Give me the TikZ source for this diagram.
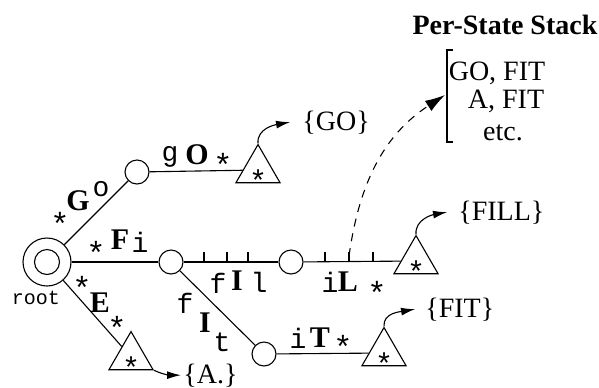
\documentclass[tikz,border=0pt]{standalone}
\usepackage{fontspec}
\setmainfont{Liberation Serif}
\setmonofont{Liberation Mono}
\usetikzlibrary{shapes.geometric,arrows.meta}
\begin{document}
\begin{tikzpicture}[x=0.5pt,y=-0.5pt,
  state/.style={draw,circle,minimum size=12pt,inner sep=0pt,line width=0.55pt},
  leaf/.style={draw,regular polygon,regular polygon sides=3,minimum size=18.5pt,inner sep=0pt,line width=0.55pt,font=\fontsize{15}{15}\ttfamily},
  bl/.style={inner sep=0pt,font=\fontsize{15}{15}\bfseries},
  tl/.style={inner sep=0pt,font=\fontsize{14}{14}\ttfamily},
  starlab/.style={inner sep=0pt,font=\fontsize{16}{16}\ttfamily},
  edge/.style={line width=0.55pt},
  arr/.style={-{Latex[length=7pt,width=4pt]},line width=0.55pt},
  setlab/.style={inner sep=0pt,anchor=base west,font=\fontsize{14}{14}\selectfont},
  stk/.style={inner sep=0pt,anchor=base,font=\fontsize{14}{14}\selectfont}]
\useasboundingbox (0,0) rectangle (599,387);
% states
\node[state,minimum size=24pt] (root) at (47,262) {};
\draw[edge] (root.center) circle[radius=6.25pt];
\node[inner sep=0pt,font=\fontsize{10}{10}\ttfamily] (rootlab) at (36,298) {root};
\node[state] (g) at (137,172) {};
\node[state] (f) at (171,262) {};
\node[state] (i) at (291,262) {};
\node[state] (t) at (264,354) {};
% leaves
\node[leaf] (lgo) at (258,170) {\smash{\raisebox{-10.5pt}{*}}};
\node[leaf] (lfill) at (416,261) {\smash{\raisebox{-10.5pt}{*}}};
\node[leaf] (lfit) at (384,353) {\smash{\raisebox{-10.5pt}{*}}};
\node[leaf] (le) at (131,357) {\smash{\raisebox{-10.5pt}{*}}};
% edges
\draw[edge] (root) -- (g);
\draw[edge] (g) -- (lgo);
\draw[edge] (root) -- (f);
\draw[edge] (f) -- (i);
\draw[edge] (i) -- (lfill);
\draw[edge] (f) -- (t);
\draw[edge] (t) -- (lfit);
\draw[edge] (root) -- (le);
% ticks
\foreach \x in {204,227,248,325,349,373} \draw[edge] (\x,262) -- (\x,252);
\coordinate (tk) at (349,256);
% edge labels
\node[starlab] (a1) at (60,224) {*};
\node[bl] (a2) at (78,201) {G};
\node[tl] (a3) at (101,189) {o};
\node[tl] (b1) at (170,157) {g};
\node[bl] (b2) at (197,155) {O};
\node[starlab] (b3) at (223,165) {*};
\node[starlab] (c1) at (96,253) {*};
\node[bl] (c2) at (120,240) {F};
\node[tl] (c3) at (140,242) {i};
\node[tl] (d1) at (218,283) {f};
\node[bl] (d2) at (237,281) {I};
\node[tl] (d3) at (259,282) {l};
\node[tl] (e1) at (330,282) {i};
\node[bl] (e2) at (348,282) {L};
\node[starlab] (e3) at (377,293) {*};
\node[tl] (f1) at (185,303) {f};
\node[bl] (f2) at (205,323) {I};
\node[tl] (f3) at (222,342) {t};
\node[tl] (g1) at (298,338) {i};
\node[bl] (g2) at (320,338) {T};
\node[starlab] (g3) at (343,347) {*};
\node[starlab] (h1) at (82,288) {*};
\node[bl] (h2) at (100,303) {E};
\node[starlab] (h3) at (117,328) {*};
% result sets
\node[setlab] (sgo) at (302,130) {\{GO\}};
\node[setlab] (sfill) at (458,220) {\{FILL\}};
\node[setlab] (sfit) at (425,317) {\{FIT\}};
\node[setlab] (sa) at (183,383) {\{A.\}};
\draw[arr] (lgo.corner 1) to[out=95,in=190] ([xshift=-6pt]sgo.west);
\draw[arr] (lfill.corner 1) to[out=95,in=190] ([xshift=-5.5pt]sfill.west);
\draw[arr] (lfit.corner 1) to[out=95,in=190] ([xshift=-5pt]sfit.west);
\draw[arr] (le.corner 3) to[out=-25,in=180] ([xshift=-1pt]sa.west);
% per-state stack
\node[inner sep=0pt,font=\fontsize{14}{14}\bfseries] (title) at (505,25) {Per-State Stack};
\draw[edge] (453,50) -- (447,50) -- (447,142) -- (453,142);
\coordinate (brk) at (445,95);
\node[stk] (s1) at (497,80) {GO, FIT};
\node[stk] (s2) at (506,108) {A, FIT};
\node[stk] (s3) at (503,140) {etc.};
\draw[edge,dash pattern=on 4pt off 3.5pt,-{Latex[length=10pt,width=6pt]}] (tk) to[out=82,in=213] (brk);
\end{tikzpicture}
\end{document}
